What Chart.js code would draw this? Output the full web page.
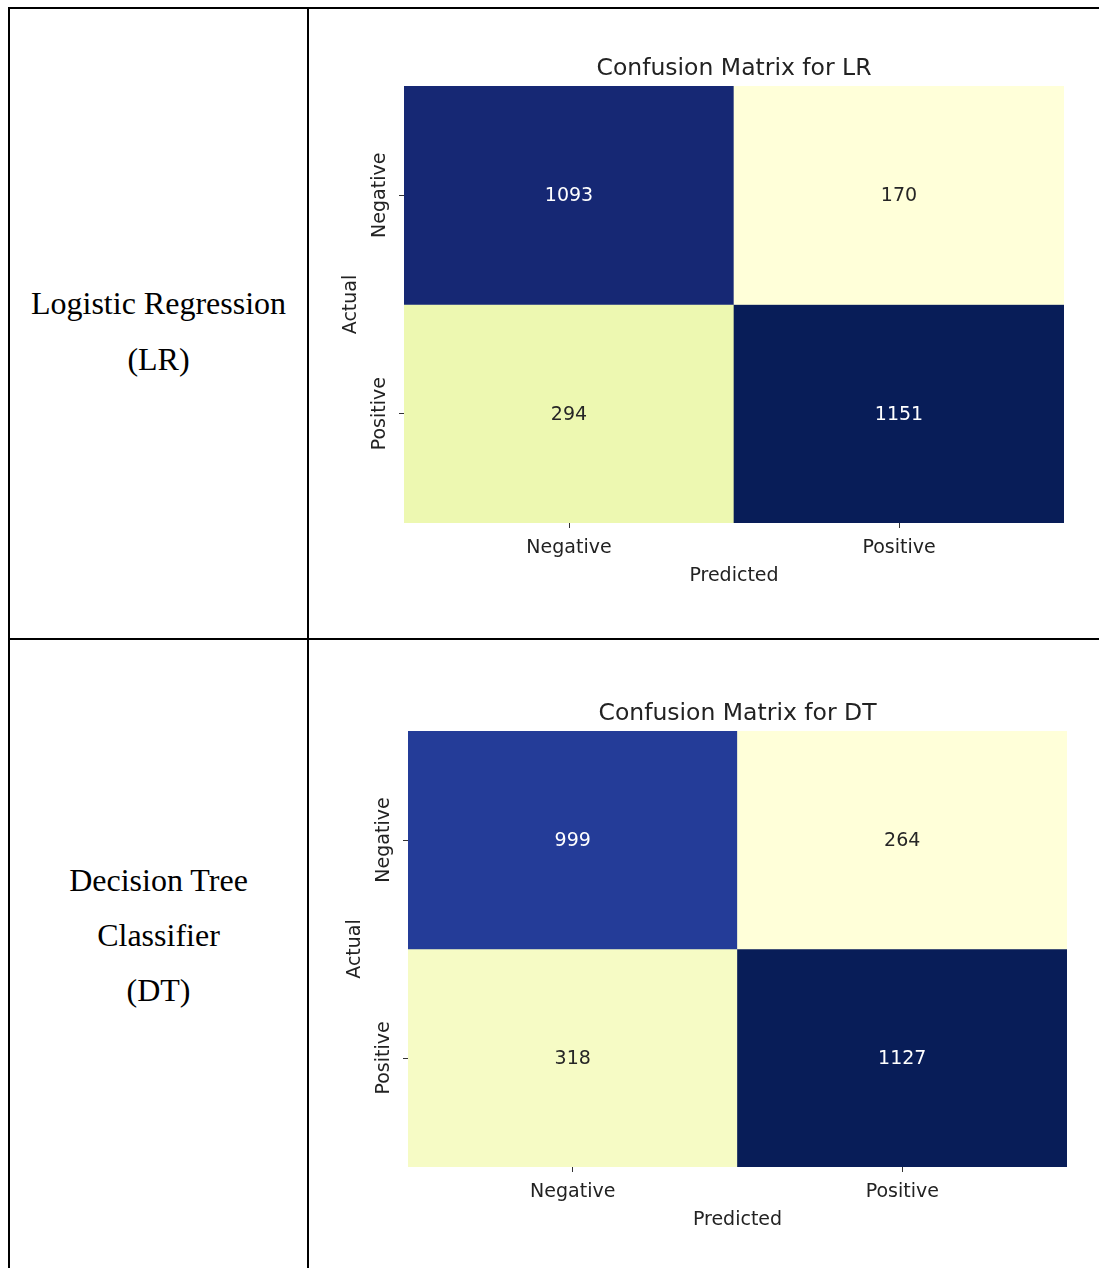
<!DOCTYPE html>
<html>
<head>
<meta charset="utf-8">
<script src="https://cdn.jsdelivr.net/npm/chart.js@4.4.1/dist/chart.umd.min.js"></script>
<style>
  html, body { margin: 0; padding: 0; background: #fff; }
  body { width: 1099px; height: 1268px; position: relative; overflow: hidden; }
  .rule { position: absolute; background: #000; }
  .label {
    position: absolute; left: 10px; width: 297px; height: 56px; line-height: 56px;
    text-align: center; white-space: nowrap; color: #000;
    font-family: "Liberation Serif", "Times New Roman", serif; font-size: 32px;
  }
  canvas { position: absolute; left: 310px; }
</style>
</head>
<body>
  <!-- table rules -->
  <div class="rule" style="left:8px; top:7px; width:1091px; height:2px"></div>
  <div class="rule" style="left:8px; top:7px; width:2px; height:1261px"></div>
  <div class="rule" style="left:307px; top:7px; width:2px; height:1261px"></div>
  <div class="rule" style="left:8px; top:638px; width:1091px; height:2px"></div>

  <!-- model names -->
  <div class="label" style="top:275px">Logistic Regression</div>
  <div class="label" style="top:331px">(LR)</div>
  <div class="label" style="top:852px">Decision Tree</div>
  <div class="label" style="top:907px">Classifier</div>
  <div class="label" style="top:962px">(DT)</div>

  <canvas id="lr" width="789" height="628" style="top:10px"></canvas>
  <canvas id="dt" width="789" height="628" style="top:640px"></canvas>

<script>
// ---- data ----
const predictedLabels = ['Negative', 'Positive'];
const actualLabels = ['Negative', 'Positive'];
const lrMatrix = [[1093, 170], [294, 1151]];
const dtMatrix = [[999, 264], [318, 1127]];
const lrTitle = 'Confusion Matrix for LR';
const dtTitle = 'Confusion Matrix for DT';
const xAxisTitle = 'Predicted';
const yAxisTitle = 'Actual';

// YlGnBu colour stops
const ylGnBu = ['#ffffd9', '#edf8b1', '#c7e9b4', '#7fcdbb', '#41b6c4',
                '#1d91c0', '#225ea8', '#253494', '#081d58'];

const FONT = 'DejaVu Sans';
const INK = '#222222';

function hexToRgb(h) {
  return [1, 3, 5].map(i => parseInt(h.slice(i, i + 2), 16));
}

function colourAt(t) {
  t = Math.max(0, Math.min(1, t));
  const pos = t * (ylGnBu.length - 1);
  const i = Math.min(Math.floor(pos), ylGnBu.length - 2);
  const f = pos - i;
  const a = hexToRgb(ylGnBu[i]);
  const b = hexToRgb(ylGnBu[i + 1]);
  return a.map((v, k) => Math.round(v + (b[k] - v) * f));
}

function luminance(rgb) {
  const lin = rgb.map(v => {
    v /= 255;
    return v <= 0.03928 ? v / 12.92 : Math.pow((v + 0.055) / 1.055, 2.4);
  });
  return 0.2126 * lin[0] + 0.7152 * lin[1] + 0.0722 * lin[2];
}

// value labels centred in each cell
const cellText = {
  id: 'cellText',
  afterDatasetsDraw(chart, args, opts) {
    const { ctx } = chart;
    ctx.save();
    ctx.font = '19px "' + FONT + '"';
    ctx.textAlign = 'center';
    ctx.textBaseline = 'middle';
    chart.data.datasets.forEach((ds, r) => {
      chart.getDatasetMeta(r).data.forEach((bar, c) => {
        const v = opts.matrix[r][c];
        const p = bar.getCenterPoint();
        ctx.fillStyle = luminance(opts.rgb[r][c]) > 0.408 ? '#262626' : '#ffffff';
        ctx.fillText(String(v), p.x, p.y + 1);
      });
    });
    ctx.restore();
  }
};

function heatmap(id, matrix, title, f) {
  const flat = matrix.flat();
  const lo = Math.min(...flat), hi = Math.max(...flat);
  const rgb = matrix.map(row => row.map(v => colourAt((v - lo) / (hi - lo))));

  const datasets = actualLabels.map((rowLabel, r) => ({
    label: rowLabel,
    data: predictedLabels.map(() => [r, r + 1]),
    backgroundColor: rgb[r].map(c => `rgb(${c[0]},${c[1]},${c[2]})`),
    borderWidth: 0,
    grouped: false,
    barPercentage: 1,
    categoryPercentage: 1
  }));

  const tickFont = { family: FONT, size: 19 };

  new Chart(document.getElementById(id), {
    type: 'bar',
    data: { labels: predictedLabels, datasets },
    plugins: [cellText],
    options: {
      responsive: false,
      animation: false,
      devicePixelRatio: 1,
      layout: { padding: { left: 0, right: f.padRight, top: 0, bottom: 0 } },
      plugins: {
        legend: { display: false },
        tooltip: { enabled: false },
        title: {
          display: true, text: title, fullSize: false, color: INK,
          font: { family: FONT, size: 23.5, weight: 'normal', lineHeight: 1.2 },
          padding: { top: f.titleTop, bottom: f.titleBottom }
        },
        cellText: { matrix, rgb }
      },
      scales: {
        x: {
          type: 'category',
          offset: true,
          grid: { offset: false, drawOnChartArea: false, drawTicks: true, tickLength: 5, tickWidth: 1, color: '#333' },
          border: { display: false },
          ticks: { padding: 9, color: INK, font: tickFont, minRotation: 0, maxRotation: 0 },
          title: {
            display: true, text: xAxisTitle, color: INK, font: tickFont,
            padding: { top: 0, bottom: f.xTitleBottom }
          },
          afterFit: s => { s.height = f.xHeight; }
        },
        y: {
          type: 'linear',
          min: 0, max: actualLabels.length,
          reverse: true,
          afterBuildTicks: s => { s.ticks = actualLabels.map((_, i) => ({ value: i + 0.5 })); },
          grid: { drawOnChartArea: false, drawTicks: true, tickLength: 5, tickWidth: 1, color: '#333' },
          border: { display: false },
          ticks: {
            callback: v => actualLabels[Math.floor(v)],
            minRotation: 90, maxRotation: 90, crossAlign: 'center', padding: -23.6,
            color: INK, font: tickFont
          },
          title: {
            display: true, text: yAxisTitle, color: INK, font: tickFont,
            padding: { top: f.yTitleTop, bottom: 0 }
          },
          afterFit: s => { s.width = f.yWidth; }
        }
      }
    }
  });
}

heatmap('lr', lrMatrix, lrTitle, {
  yWidth: 94, padRight: 35, titleTop: 44.5, titleBottom: 3.3,
  xHeight: 115, xTitleBottom: 50.6, yTitleTop: 29.2
});
heatmap('dt', dtMatrix, dtTitle, {
  yWidth: 98, padRight: 32, titleTop: 59.5, titleBottom: 3.3,
  xHeight: 101, xTitleBottom: 36.6, yTitleTop: 33.2
});
</script>
</body>
</html>
